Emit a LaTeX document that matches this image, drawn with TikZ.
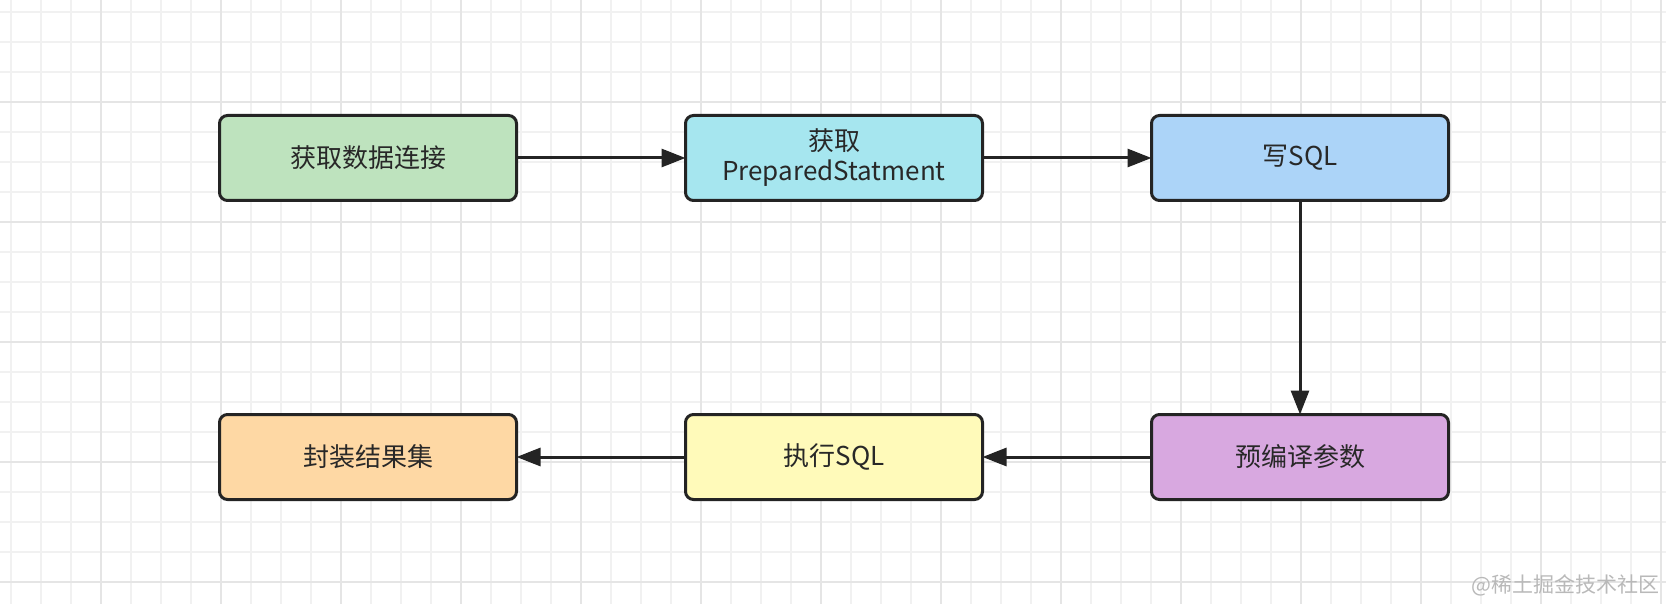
\documentclass[tikz,border=0pt]{standalone}
\usepackage{fontspec}
\newfontfamily\cjk{Noto Sans CJK SC}
\usetikzlibrary{positioning,arrows.meta}
\definecolor{gridminor}{RGB}{241,241,241}
\definecolor{gridmajor}{RGB}{229,229,229}
\definecolor{boxline}{RGB}{36,36,36}
\definecolor{txt}{RGB}{40,40,40}
\definecolor{cgreen}{RGB}{190,227,190}
\definecolor{ccyan}{RGB}{166,230,239}
\definecolor{cblue}{RGB}{172,212,248}
\definecolor{cpurple}{RGB}{216,168,224}
\definecolor{cyellow}{RGB}{255,250,186}
\definecolor{corange}{RGB}{254,216,164}
\tikzset{
  flownode/.style = {rectangle, rounded corners=4pt, draw=boxline, line width=1.5pt, outer sep=0pt, inner sep=0pt,
    minimum width=148.5pt, minimum height=42.5pt, align=center, text=txt, font=\cjk\fontsize{13}{15}\selectfont},
  flowarrow/.style = {-{Triangle[length=12pt,width=9pt]}, line width=1.5pt, draw=boxline},
  watermark/.style = {anchor=east, inner sep=0pt, text={rgb,255:red,185;green,185;blue,185}, font=\cjk\fontsize{10.5}{12}\selectfont},
}

\begin{document}
\begin{tikzpicture}
\useasboundingbox [fill=white] (0,0) rectangle (833pt,-302pt);
\foreach \x in {5.5,20.5,...,831} \draw[gridminor, line width=0.6pt] (\x pt,0) -- (\x pt,-302pt);
\foreach \y in {6,21,...,292} \draw[gridminor, line width=0.6pt] (0,-\y pt) -- (833pt,-\y pt);
\foreach \x in {50.5,110.5,...,831} \draw[gridmajor, line width=0.8pt] (\x pt,0) -- (\x pt,-302pt);
\foreach \y in {51,111,...,292} \draw[gridmajor, line width=0.8pt] (0,-\y pt) -- (833pt,-\y pt);

\node [flownode, fill=cgreen] (conn) at (184pt,-79pt) {获取数据连接};
\node [flownode, fill=ccyan, right=84.5pt of conn] (pstmt) {获取\\PreparedStatment};
\node [flownode, fill=cblue, right=84.5pt of pstmt] (sql) {写SQL};
\node [flownode, fill=cpurple, below=107pt of sql] (param) {预编译参数};
\node [flownode, fill=cyellow, left=84.5pt of param] (exec) {执行SQL};
\node [flownode, fill=corange, left=84.5pt of exec] (result) {封装结果集};

\draw [flowarrow] (conn) -- (pstmt);
\draw [flowarrow] (pstmt) -- (sql);
\draw [flowarrow] (sql) -- (param);
\draw [flowarrow] (param) -- (exec);
\draw [flowarrow] (exec) -- (result);

\node [watermark] (mark) at (830pt,-292.5pt) {@稀土掘金技术社区};
\end{tikzpicture}
\end{document}
